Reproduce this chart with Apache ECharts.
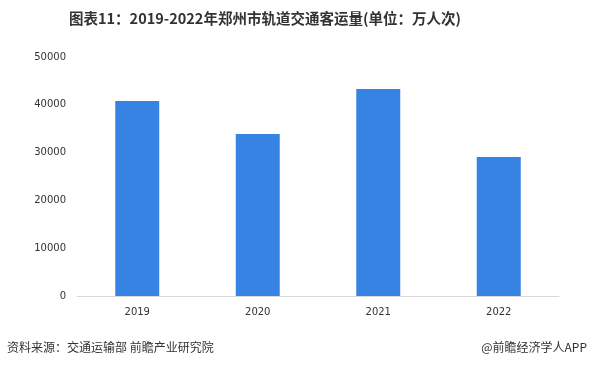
<!DOCTYPE html>
<html><head><meta charset="utf-8">
<script src="https://cdn.jsdelivr.net/npm/echarts@6/dist/echarts.min.js"></script>
<style>html,body{margin:0;padding:0;background:#fff}#c{width:592px;height:368px}</style>
</head><body><div id="c"></div>
<script>
const categories = ['2019','2020','2021','2022'];
const values = [40800, 33900, 43300, 29100];
const yTicks = [0, 10000, 20000, 30000, 40000, 50000];

const chart = echarts.init(document.getElementById('c'));
chart.setOption({
  animation: false,
  backgroundColor: '#fff',
  title: [{
    text: '图表11：2019-2022年郑州市轨道交通客运量(单位：万人次)',
    left: 69, top: 11, padding: 0,
    textStyle: {fontFamily: 'Noto Sans CJK SC', fontSize: 14.5, fontWeight: 'bold', color: '#333'}
  },{
    text: '资料来源：交通运输部 前瞻产业研究院',
    left: 7, top: 341, padding: 0,
    textStyle: {fontFamily: 'Noto Sans CJK SC', fontSize: 12, fontWeight: 'normal', color: '#333'}
  },{
    text: '@前瞻经济学人APP',
    right: 5, top: 341, padding: 0,
    textStyle: {fontFamily: 'Noto Sans CJK SC', fontSize: 12, fontWeight: 'normal', color: '#333'}
  }],
  grid: {left: 77, right: 33, top: 57, bottom: 72},
  xAxis: {
    type: 'category', data: categories,
    axisLine: {lineStyle: {color: '#d9d9d9', width: 1}},
    axisTick: {show: false},
    axisLabel: {color: '#333', fontFamily: 'DejaVu Sans', fontSize: 10, margin: 11}
  },
  yAxis: {
    type: 'value', min: yTicks[0], max: yTicks[yTicks.length-1], interval: 10000,
    axisLine: {show: false}, axisTick: {show: false}, splitLine: {show: false},
    axisLabel: {color: '#333', fontFamily: 'DejaVu Sans', fontSize: 10, margin: 11, formatter: v => String(v)}
  },
  series: [{
    type: 'bar', data: values, barWidth: '36.5%',
    itemStyle: {color: '#3683e4'}
  }]
});
</script></body></html>
